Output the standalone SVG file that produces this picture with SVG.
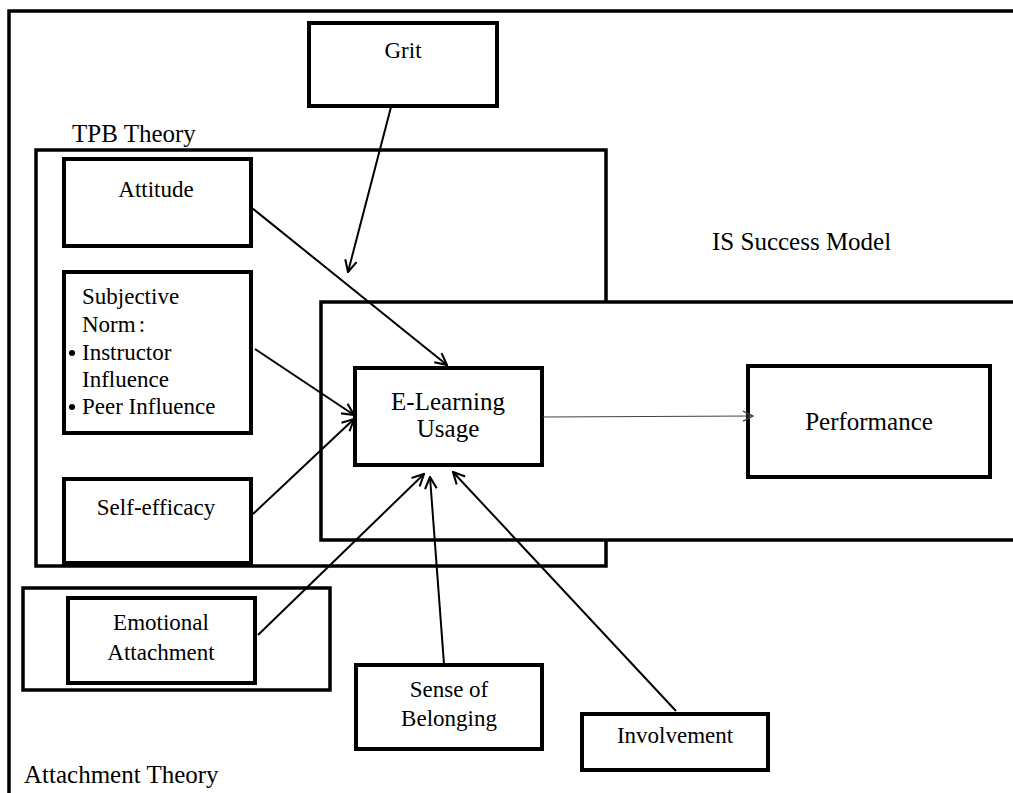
<svg xmlns="http://www.w3.org/2000/svg" width="1013" height="793" viewBox="0 0 1013 793">
<defs>
<style>
.frame{fill:#fff;stroke:#000;stroke-width:3.5}
.box{fill:#fff;stroke:#000;stroke-width:4}
.t{font-family:"Liberation Serif","Times New Roman",serif;font-size:23px;fill:#000}
.tc{text-anchor:middle}
.big{font-size:25px}
.lbl{font-family:"Liberation Serif","Times New Roman",serif;font-size:25px;fill:#000}
.c{fill:none;stroke:#000;stroke-width:2;marker-end:url(#ah)}
.c2{fill:none;stroke:#444;stroke-width:1.2;marker-end:url(#ah2)}
</style>
<marker id="ah" viewBox="0 0 12 12" refX="11" refY="6" markerWidth="14" markerHeight="14" markerUnits="userSpaceOnUse" orient="auto">
<path d="M1,1 L11,6 L1,11" fill="none" stroke="#000" stroke-width="1.8"/>
</marker>
<marker id="ah2" viewBox="0 0 12 12" refX="11" refY="6" markerWidth="12" markerHeight="12" markerUnits="userSpaceOnUse" orient="auto">
<path d="M1,1 L11,6 L1,11" fill="none" stroke="#444" stroke-width="1.4"/>
</marker>
</defs>
<rect width="1013" height="793" fill="#fff"/>
<g id="frames">
<rect class="frame" x="9" y="11" width="1020" height="800"/>
<rect class="frame" x="36" y="150" width="570" height="416"/>
<rect class="frame" x="321" y="302" width="710" height="238"/>
<rect class="frame" x="23" y="588" width="307" height="102"/>
<text class="lbl" x="72" y="142">TPB  Theory</text>
<text class="lbl" x="712" y="250">IS Success Model</text>
<text class="lbl" x="24" y="783">Attachment Theory</text>
</g>
<g id="grit">
<rect class="box" x="309" y="23" width="188" height="83"/>
<text class="t tc" x="403" y="58">Grit</text>
</g>
<g id="attitude">
<rect class="box" x="64" y="159" width="187" height="87"/>
<text class="t tc" x="156" y="197">Attitude</text>
</g>
<g id="subjective-norm">
<rect class="box" x="64" y="272" width="187" height="161"/>
<text class="t" x="82" y="304">Subjective</text>
<text class="t" x="82" y="332">Norm<tspan dx="3">:</tspan></text>
<circle cx="72" cy="353" r="3"/>
<text class="t" x="82" y="360">Instructor</text>
<text class="t" x="82" y="387">Influence</text>
<circle cx="72" cy="407" r="3"/>
<text class="t" x="82" y="414">Peer Influence</text>
</g>
<g id="self-efficacy">
<rect class="box" x="64" y="479" width="187" height="84"/>
<text class="t tc" x="156" y="515">Self-efficacy</text>
</g>
<g id="elearning">
<rect class="box" x="355" y="368" width="187" height="97"/>
<text class="t tc big" x="448" y="410">E-Learning</text>
<text class="t tc big" x="448" y="437">Usage</text>
</g>
<g id="performance">
<rect class="box" x="748" y="366" width="242" height="111"/>
<text class="t tc big" x="869" y="430">Performance</text>
</g>
<g id="emotional-attachment">
<rect class="box" x="68" y="598" width="187" height="85"/>
<text class="t tc" x="161" y="630">Emotional</text>
<text class="t tc" x="161" y="660">Attachment</text>
</g>
<g id="sense-of-belonging">
<rect class="box" x="356" y="665" width="186" height="84"/>
<text class="t tc" x="449" y="697">Sense of</text>
<text class="t tc" x="449" y="726">Belonging</text>
</g>
<g id="involvement">
<rect class="box" x="582" y="714" width="186" height="56"/>
<text class="t tc" x="675" y="743">Involvement</text>
</g>
<g id="connectors">
<line class="c" x1="391" y1="107" x2="348" y2="272"/>
<line class="c" x1="252" y1="208" x2="447" y2="365"/>
<line class="c" x1="255" y1="349" x2="354" y2="415"/>
<line class="c" x1="253" y1="514" x2="354" y2="419"/>
<line class="c" x1="258" y1="635" x2="424" y2="474"/>
<line class="c" x1="444" y1="664" x2="430" y2="477"/>
<line class="c" x1="676" y1="711" x2="453" y2="472"/>
<line class="c2" x1="543" y1="417" x2="753" y2="416"/>
</g>
</svg>
